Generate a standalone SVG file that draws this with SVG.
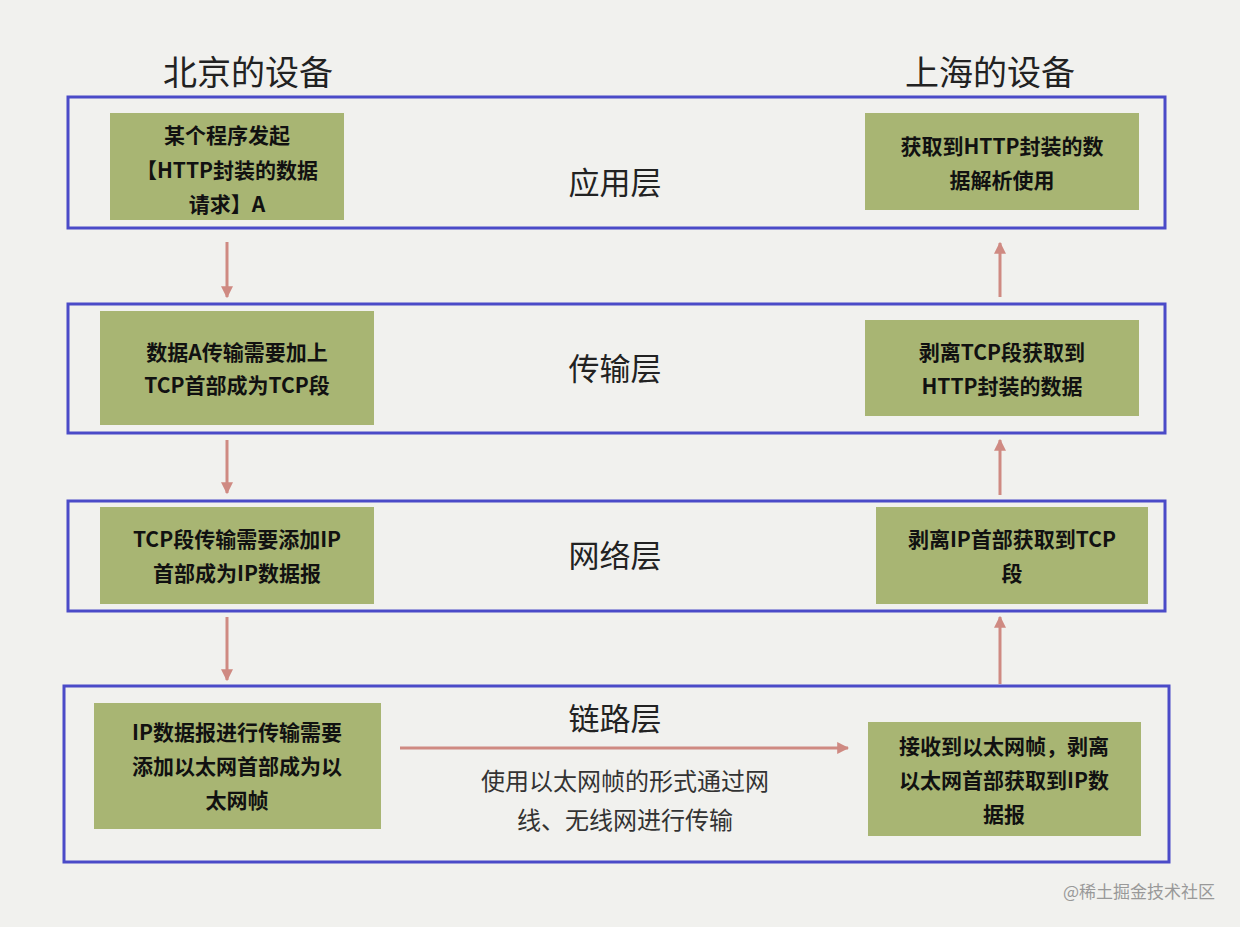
<svg xmlns="http://www.w3.org/2000/svg" width="1240" height="927" viewBox="0 0 1240 927">
<defs>
<marker id="ah" viewBox="0 0 10 10" refX="9" refY="5" markerWidth="4" markerHeight="4" orient="auto"><path d="M0,0L10,5L0,10z" fill="#cf8a82"/></marker>
<style>
text{font-family:"Noto Sans CJK SC","Liberation Sans",sans-serif;text-anchor:middle}
.layer{fill:none;stroke:#4b4bc8;stroke-width:3}
.box{fill:#a8b573}
.bt{font-size:21px;font-weight:bold;fill:#111}
.lt{font-size:31px;fill:#222}
.tt{font-size:34px;fill:#222}
.c{stroke:#cf8a82;stroke-width:3;fill:none;marker-end:url(#ah)}
</style>
</defs>
<rect width="1240" height="927" fill="#f1f1ee"/>
<text class="tt" x="248" y="85">北京的设备</text>
<text class="tt" x="990" y="85">上海的设备</text>
<g id="layers">
<rect class="layer" x="68" y="97" width="1097" height="131"/>
<rect class="layer" x="68" y="304" width="1097" height="129"/>
<rect class="layer" x="68" y="501" width="1097" height="110"/>
<rect class="layer" x="64" y="686" width="1105" height="176"/>
<text class="lt" x="615" y="194">应用层</text>
<text class="lt" x="615" y="380">传输层</text>
<text class="lt" x="615" y="567">网络层</text>
<text class="lt" x="615" y="730">链路层</text>
</g>
<g id="a1"><rect class="box" x="110" y="113" width="234" height="107"/><text class="bt" x="227" y="143">某个程序发起</text><text class="bt" x="227" y="178">【HTTP封装的数据</text><text class="bt" x="227" y="212">请求】A</text></g>
<g id="a2"><rect class="box" x="100" y="311" width="274" height="114"/><text class="bt" x="237" y="360">数据A传输需要加上</text><text class="bt" x="237" y="393">TCP首部成为TCP段</text></g>
<g id="a3"><rect class="box" x="100" y="507" width="274" height="97"/><text class="bt" x="237" y="547">TCP段传输需要添加IP</text><text class="bt" x="237" y="581">首部成为IP数据报</text></g>
<g id="a4"><rect class="box" x="94" y="703" width="287" height="126"/><text class="bt" x="237" y="740">IP数据报进行传输需要</text><text class="bt" x="237" y="774">添加以太网首部成为以</text><text class="bt" x="237" y="808">太网帧</text></g>
<g id="b1"><rect class="box" x="865" y="113" width="274" height="97"/><text class="bt" x="1002" y="154">获取到HTTP封装的数</text><text class="bt" x="1002" y="188">据解析使用</text></g>
<g id="b2"><rect class="box" x="865" y="320" width="274" height="96"/><text class="bt" x="1002" y="360">剥离TCP段获取到</text><text class="bt" x="1002" y="394">HTTP封装的数据</text></g>
<g id="b3"><rect class="box" x="876" y="507" width="272" height="97"/><text class="bt" x="1012" y="547">剥离IP首部获取到TCP</text><text class="bt" x="1012" y="581">段</text></g>
<g id="b4"><rect class="box" x="868" y="722" width="273" height="114"/><text class="bt" x="1004" y="754">接收到以太网帧，剥离</text><text class="bt" x="1004" y="788">以太网首部获取到IP数</text><text class="bt" x="1004" y="822">据报</text></g>
<g id="connectors">
<line class="c" x1="227" y1="242" x2="227" y2="297"/>
<line class="c" x1="227" y1="440" x2="227" y2="493"/>
<line class="c" x1="227" y1="617" x2="227" y2="680"/>
<line class="c" x1="1000" y1="297" x2="1000" y2="243"/>
<line class="c" x1="1000" y1="495" x2="1000" y2="440"/>
<line class="c" x1="1000" y1="684" x2="1000" y2="617"/>
<line class="c" x1="400" y1="748" x2="848" y2="748"/>
</g>
<text x="625" y="790" style="font-size:24px;fill:#333">使用以太网帧的形式通过网</text>
<text x="625" y="829" style="font-size:24px;fill:#333">线、无线网进行传输</text>
<text x="1215" y="898" style="font-size:17px;fill:#999;text-anchor:end">@稀土掘金技术社区</text>
</svg>
